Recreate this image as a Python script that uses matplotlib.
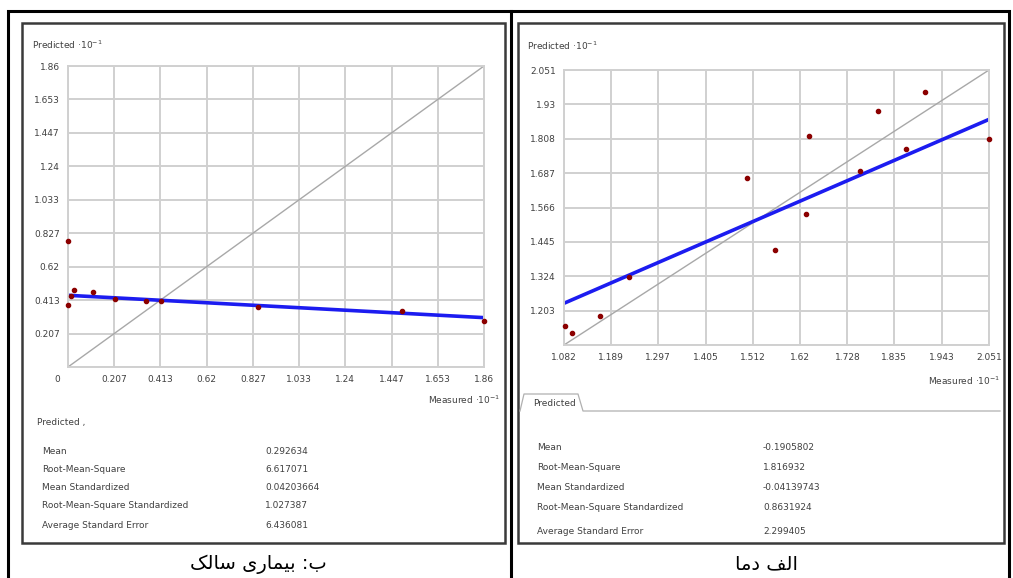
import matplotlib
matplotlib.use('Agg')
import matplotlib.pyplot as plt
import matplotlib.patches as patches
import matplotlib.transforms as mtransforms

plt.rcParams['font.family'] = ['DejaVu Sans']

W, H = 1013, 578

# ---- data ----
# left panel (ب: بیماری سالک)
sal_ticks = [0, 0.207, 0.413, 0.62, 0.827, 1.033, 1.24, 1.447, 1.653, 1.86]
sal_meas = [0.0, 0.0, 0.012, 0.028, 0.110, 0.209, 0.348, 0.415, 0.850, 1.495, 1.86]
sal_pred = [0.779, 0.381, 0.437, 0.474, 0.463, 0.422, 0.408, 0.406, 0.371, 0.344, 0.284]
sal_fit = [0.443, 0.305]   # regression line at the ends of the x axis
sal_stats = ['0.292634', '6.617071', '0.04203664', '1.027387', '6.436081']

# right panel (الف دما)
dma_ticks = [1.082, 1.189, 1.297, 1.405, 1.512, 1.62, 1.728, 1.835, 1.943, 2.051]
dma_yticks = [1.082, 1.203, 1.324, 1.445, 1.566, 1.687, 1.808, 1.93, 2.051]
dma_meas = [1.084, 1.101, 1.163, 1.230, 1.499, 1.564, 1.633, 1.641, 1.756, 1.799, 1.861, 1.906, 2.051]
dma_pred = [1.150, 1.123, 1.185, 1.320, 1.672, 1.417, 1.544, 1.820, 1.694, 1.905, 1.773, 1.975, 1.807]
dma_fit = [1.229, 1.877]
dma_stats = ['-0.1905802', '1.816932', '-0.04139743', '0.8631924', '2.299405']

stat_names = ['Mean', 'Root-Mean-Square', 'Mean Standardized',
              'Root-Mean-Square Standardized', 'Average Standard Error']

cap_left = 'ب: بیماری سالک'
cap_right = 'الف دما'


def shape_fa(text):
    """ very small Persian shaper: contextual forms + visual (reversed) order """
    forms = {
        'ا': ('\uFE8D', '\uFE8E', None, None),
        'ب': ('\uFE8F', '\uFE90', '\uFE91', '\uFE92'),
        'د': ('\uFEA9', '\uFEAA', None, None),
        'ر': ('\uFEAD', '\uFEAE', None, None),
        'س': ('\uFEB1', '\uFEB2', '\uFEB3', '\uFEB4'),
        'ف': ('\uFED1', '\uFED2', '\uFED3', '\uFED4'),
        'ل': ('\uFEDD', '\uFEDE', '\uFEDF', '\uFEE0'),
        'م': ('\uFEE1', '\uFEE2', '\uFEE3', '\uFEE4'),
        'ک': ('\uFB8E', '\uFB8F', '\uFB90', '\uFB91'),
        'ی': ('\uFBFC', '\uFBFD', '\uFBFE', '\uFBFF'),
    }
    out = []
    for i, c in enumerate(text):
        if c not in forms:
            out.append(c)
            continue
        prev = text[i - 1] if i > 0 else ''
        nxt = text[i + 1] if i + 1 < len(text) else ''
        jp = prev in forms and forms[prev][2] is not None
        jn = forms[c][2] is not None and nxt in forms
        iso, fin, ini, med = forms[c]
        if jp and jn:
            out.append(med)
        elif jp:
            out.append(fin)
        elif jn:
            out.append(ini)
        else:
            out.append(iso)
    return ''.join(reversed(out))


fig = plt.figure(figsize=(W / 100, H / 100), dpi=100)


def px_rect(x0, y0, x1, y1, **kw):
    r = patches.Rectangle((x0 / W, 1 - y1 / H), (x1 - x0) / W, (y1 - y0) / H,
                          transform=fig.transFigure, fill=False, **kw)
    fig.add_artist(r)


# outer frame and panel frames
px_rect(8, 11, 1009, 590, lw=2.2, edgecolor='black')
fig.add_artist(plt.Line2D([511 / W, 511 / W], [0, 1 - 11 / H], transform=fig.transFigure, color='black', lw=2.2))
px_rect(22, 23, 505, 543, lw=1.8, edgecolor='#3a3a3a')
px_rect(518, 23, 1004, 543, lw=1.8, edgecolor='#3a3a3a')

tick_col = '#404040'
grid_col = '#d0d0d0'
fs = 6.5


def style_axes(ax):
    ax.grid(True, color=grid_col, lw=1.4)
    ax.set_axisbelow(True)
    for s in ax.spines.values():
        s.set_color(grid_col)
        s.set_linewidth(1.4)
    ax.tick_params(length=0, labelsize=fs, colors=tick_col, pad=6)


# ---- left panel ----
ax1 = fig.add_axes([68 / W, 1 - 367 / H, 416 / W, 301 / H])
ax1.set_xlim(sal_ticks[0], sal_ticks[-1])
ax1.set_ylim(sal_ticks[0], sal_ticks[-1])
ax1.set_xticks(sal_ticks)
ax1.set_xticklabels([f'{t:g}' for t in sal_ticks])
ax1.set_yticks(sal_ticks)
ax1.set_yticklabels([''] + [f'{t:g}' for t in sal_ticks[1:]])
style_axes(ax1)
lab0 = ax1.get_xticklabels()[0]
lab0.set_transform(lab0.get_transform() + mtransforms.ScaledTranslation(-0.11, 0, fig.dpi_scale_trans))
ax1.plot([sal_ticks[0], sal_ticks[-1]], [sal_ticks[0], sal_ticks[-1]], color='#a8a8a8', lw=1.0)
ax1.plot([sal_ticks[0], sal_ticks[-1]], sal_fit, color='#1c1cf0', lw=2.6)
ax1.scatter(sal_meas, sal_pred, s=9, color='#8b0000', zorder=5, clip_on=False)

fig.text(32 / W, 1 - 45 / H, 'Predicted ·10$^{-1}$', fontsize=fs, color=tick_col, va='center')
fig.text(500 / W, 1 - 400 / H, 'Measured ·10$^{-1}$', fontsize=fs, color=tick_col, va='center', ha='right')
fig.text(37 / W, 1 - 422 / H, 'Predicted ,', fontsize=fs, color=tick_col, va='center')
for i, (n, v) in enumerate(zip(stat_names, sal_stats)):
    y = 1 - [451, 469, 487, 506, 526][i] / H
    fig.text(42 / W, y, n, fontsize=fs, color=tick_col, va='center')
    fig.text(265 / W, y, v, fontsize=fs, color=tick_col, va='center')

# ---- right panel ----
ax2 = fig.add_axes([564 / W, 1 - 345 / H, 425 / W, 275 / H])
ax2.set_xlim(dma_ticks[0], dma_ticks[-1])
ax2.set_ylim(dma_yticks[0], dma_yticks[-1])
ax2.set_xticks(dma_ticks)
ax2.set_xticklabels([f'{t:g}' for t in dma_ticks])
ax2.set_yticks(dma_yticks)
ax2.set_yticklabels([''] + [f'{t:g}' for t in dma_yticks[1:]])
style_axes(ax2)
ax2.plot([dma_ticks[0], dma_ticks[-1]], [dma_ticks[0], dma_ticks[-1]], color='#a8a8a8', lw=1.0)
ax2.plot([dma_ticks[0], dma_ticks[-1]], dma_fit, color='#1c1cf0', lw=2.6)
ax2.scatter(dma_meas, dma_pred, s=9, color='#8b0000', zorder=5, clip_on=False)

fig.text(527 / W, 1 - 46 / H, 'Predicted ·10$^{-1}$', fontsize=fs, color=tick_col, va='center')
fig.text(1000 / W, 1 - 381 / H, 'Measured ·10$^{-1}$', fontsize=fs, color=tick_col, va='center', ha='right')

# tab with "Predicted"
tab_x = [520 / W, 524 / W, 578 / W, 583 / W, 1000 / W]
tab_y = [1 - 411 / H, 1 - 394 / H, 1 - 394 / H, 1 - 411 / H, 1 - 411 / H]
fig.add_artist(plt.Line2D(tab_x, tab_y, transform=fig.transFigure, color='#b0b0b0', lw=0.9))
fig.text(533 / W, 1 - 403 / H, 'Predicted', fontsize=fs, color=tick_col, va='center')
for i, (n, v) in enumerate(zip(stat_names, dma_stats)):
    y = 1 - [447, 467, 488, 508, 531][i] / H
    fig.text(537 / W, y, n, fontsize=fs, color=tick_col, va='center')
    fig.text(763 / W, y, v, fontsize=fs, color=tick_col, va='center')

# captions
fig.text(258 / W, 1 - 564 / H, shape_fa(cap_left), fontsize=14, ha='center', va='center')
fig.text(766 / W, 1 - 564 / H, shape_fa(cap_right), fontsize=14, ha='center', va='center')

fig.savefig('out.png', dpi=100)
